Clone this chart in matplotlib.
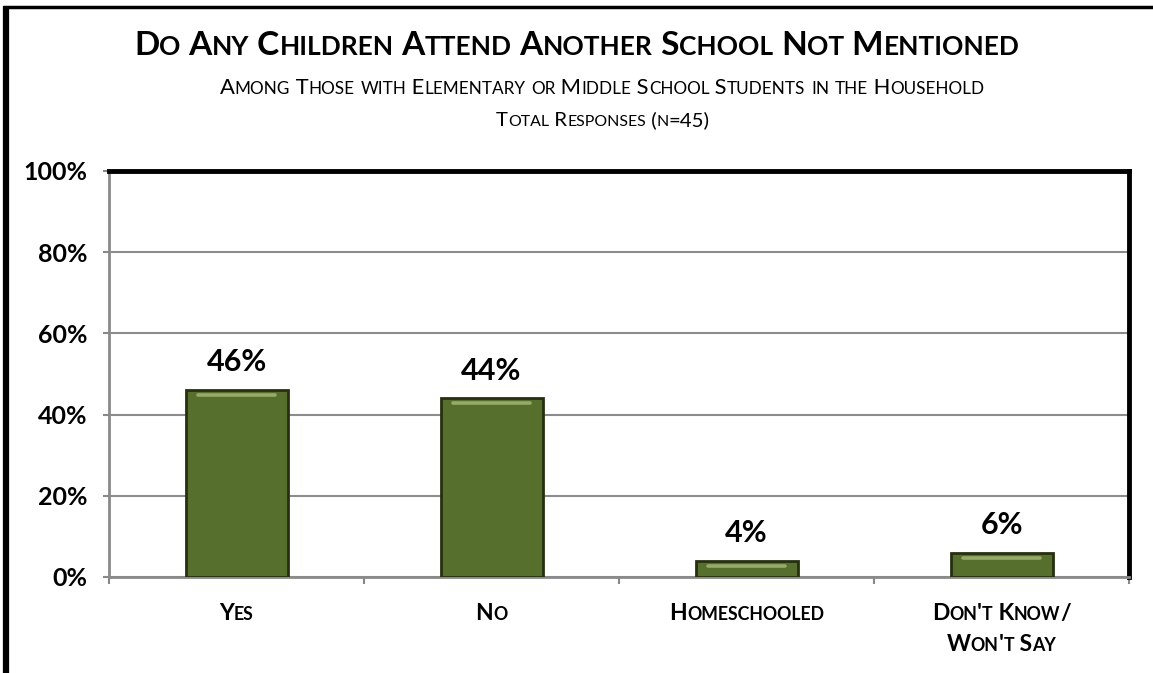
import matplotlib
matplotlib.use("Agg")
import matplotlib.pyplot as plt
from matplotlib.lines import Line2D
from matplotlib.font_manager import FontProperties
import numpy as np

# ---- data ----
categories = ["Yes", "No", "Homeschooled", "Don't Know/\nWon't Say"]
values = [46, 44, 4, 6]
y_ticks = [0, 20, 40, 60, 80, 100]
title = "Do Any Children Attend Another School Not Mentioned"
subtitle = "Among Those with Elementary or Middle School Students in the Household"
subtitle2 = "Total Responses (n=45)"

W, H, DPI = 1153, 673, 100
FONT = "Lato"

fig = plt.figure(figsize=(W / DPI, H / DPI), dpi=DPI)
fig.patch.set_facecolor("white")
renderer = fig.canvas.get_renderer()

# axes placed in pixel terms
ax_l, ax_r, ax_t, ax_b = 109, 1129, 171, 577
ax = fig.add_axes([ax_l / W, (H - ax_b) / H, (ax_r - ax_l) / W, (ax_b - ax_t) / H])

x = np.arange(len(categories))
bar_w = 0.40
bars = ax.bar(x, values, width=bar_w, color="#566f2c", edgecolor="#26300f",
              linewidth=2.0, zorder=3)
# soft highlight strip just under each bar top
for xi, v in zip(x, values):
    hy = v - 1.2 if v > 3 else v * 0.5
    ax.plot([xi - bar_w * 0.38, xi + bar_w * 0.38], [hy, hy],
            color="#a3b573", lw=2.6, solid_capstyle="round", zorder=4, alpha=0.85)
    ax.annotate(f"{v}%", xy=(xi, v), xytext=(0, 13.5), textcoords="offset points",
                ha="center", va="baseline", fontsize=22, fontweight="bold",
                family=FONT, color="black", zorder=5)

ax.set_xlim(-0.5, len(categories) - 0.5)
ax.set_ylim(0, 100)
ax.set_yticks(y_ticks)
ax.set_yticklabels([f"{t}%" for t in y_ticks], fontsize=18, fontweight="bold",
                   family=FONT)
ax.set_xticks(np.arange(-0.5, len(categories), 1.0))
ax.set_xticklabels([])
ax.tick_params(axis="y", direction="out", length=4, width=1.5, color="#888888", pad=11.5)
ax.tick_params(axis="x", direction="out", length=5, width=1.5, color="#888888")
ax.yaxis.grid(True, color="#8c8c8c", linewidth=1.5, zorder=0)
ax.set_axisbelow(True)
for side in ("left", "bottom"):
    ax.spines[side].set_color("#8a8a8a")
    ax.spines[side].set_linewidth(2.0)
for side in ("top", "right"):
    ax.spines[side].set_color("black")
    ax.spines[side].set_linewidth(3.5)


def run_width(s, fp):
    bar = renderer.get_text_width_height_descent("|", fp, ismath=False)[0]
    full = renderer.get_text_width_height_descent(s + "|", fp, ismath=False)[0]
    return full - bar


def draw_small_caps(text, cx, base_y, big, small, weight="bold"):
    """Small-caps text centred at pixel cx, baseline at pixel base_y from the top."""
    runs = []
    for ch in text:
        is_small = ch.islower()
        c = ch.upper() if is_small else ch
        if runs and runs[-1][1] == is_small:
            runs[-1][0] += c
        else:
            runs.append([c, is_small])
    items = []
    total = 0.0
    for s, is_small in runs:
        fp = FontProperties(family=FONT, weight=weight, size=small if is_small else big)
        w = run_width(s, fp)
        items.append((s, fp, total))
        total += w
    x0 = cx - total / 2.0
    for s, fp, off in items:
        fig.text((x0 + off) / W, (H - base_y) / H, s, fontproperties=fp,
                 ha="left", va="baseline", color="black")


# titles
draw_small_caps(title, 577, 55, 24, 19, "bold")
draw_small_caps(subtitle, 602, 94, 15.8, 12.3, "normal")
draw_small_caps(subtitle2, 603, 126, 14.7, 11.4, "normal")

# category labels under each bar
cat_px = [ax_l + (ax_r - ax_l) * (i + 0.5) / len(categories) for i in range(len(categories))]
for cx, lab in zip(cat_px, categories):
    for j, line in enumerate(lab.split("\n")):
        draw_small_caps(line, cx, 620 + 31 * j, 16.5, 12.8, "bold")

# outer frame lines (left and top)
fig.add_artist(Line2D([6 / W, 6 / W], [0, 1 - 6 / H], transform=fig.transFigure,
                      color="black", lw=4.5, solid_capstyle="butt"))
fig.add_artist(Line2D([3 / W, 1], [1 - 6.5 / H, 1 - 6.5 / H], transform=fig.transFigure,
                      color="black", lw=2.5, solid_capstyle="butt"))

fig.savefig("out.png", dpi=DPI, facecolor="white")
